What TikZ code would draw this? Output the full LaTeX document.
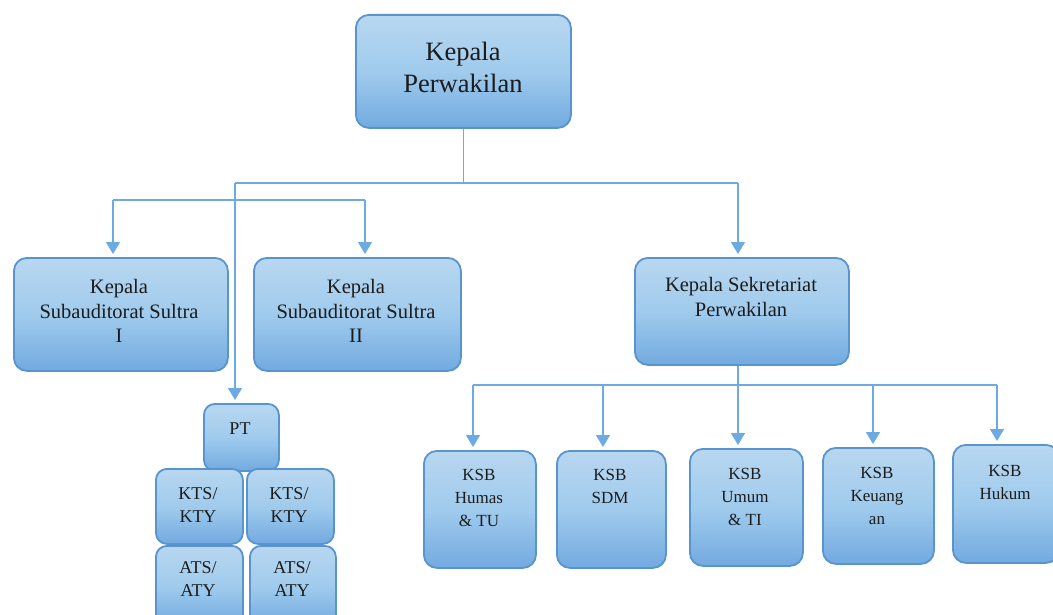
\documentclass[tikz,border=0pt]{standalone}
\usepackage{fontspec}
\setmainfont{Liberation Serif}
\usetikzlibrary{arrows.meta}
\definecolor{boxline}{RGB}{88,148,206}
\definecolor{boxtop}{RGB}{184,215,240}
\definecolor{boxmid}{RGB}{160,203,237}
\definecolor{boxbot}{RGB}{114,170,224}
\definecolor{conncol}{RGB}{108,170,226}
\definecolor{txtcol}{RGB}{28,28,28}
\tikzset{
  box/.style={draw=boxline, line width=1.8pt, rounded corners=13pt, inner sep=0pt,
    anchor=north west, top color=boxtop, bottom color=boxbot, middle color=boxmid},
  smallbox/.style={box, rounded corners=11pt},
  conn/.style={draw=conncol, line width=1.5pt},
  arr/.style={conn, -{Triangle[width=14pt,length=12pt]}, shorten >=3pt},
  bigtxt/.style={align=center, text=txtcol, font=\fontsize{26.5}{32}\selectfont},
  midtxt/.style={align=center, text=txtcol, font=\fontsize{20.5}{24.5}\selectfont},
  smltxt/.style={align=center, text=txtcol, font=\fontsize{17}{23}\selectfont},
  kttxt/.style={align=center, text=txtcol, font=\fontsize{18}{23}\selectfont},
}
\begin{document}
\begin{tikzpicture}[x=1pt,y=-1pt]
\clip (0,0) rectangle (1053,615);
\fill[white] (0,0) rectangle (1053,615);
% boxes
\node[box, minimum width=215pt, minimum height=113pt] (top) at (355,14) {};
\node[box, minimum width=214pt, minimum height=113pt] (sub1) at (13,257) {};
\node[box, minimum width=207pt, minimum height=113pt] (sub2) at (253,257) {};
\node[box, minimum width=214pt, minimum height=107pt] (sek) at (634,257) {};
\node[smallbox, minimum width=75pt, minimum height=67pt] (pt) at (203,403) {};
\node[smallbox, minimum width=87pt, minimum height=75pt] (kts1) at (155,468) {};
\node[smallbox, minimum width=87pt, minimum height=75pt] (kts2) at (246,468) {};
\node[smallbox, minimum width=87pt, minimum height=80pt] (ats1) at (155,545) {};
\node[smallbox, minimum width=86pt, minimum height=80pt] (ats2) at (249,545) {};
\node[box, minimum width=112pt, minimum height=117pt] (ksb1) at (423,450) {};
\node[box, minimum width=109pt, minimum height=117pt] (ksb2) at (556,450) {};
\node[box, minimum width=113pt, minimum height=117pt] (ksb3) at (689,448) {};
\node[box, minimum width=111pt, minimum height=116pt] (ksb4) at (822,447) {};
\node[box, minimum width=106pt, minimum height=118pt] (ksb5) at (952,444) {};
% texts
\node[bigtxt] (ttop) at (463,67) {Kepala\\Perwakilan};
\node[midtxt] (tsub1) at (119,311) {Kepala\\Subauditorat Sultra\\I};
\node[midtxt] (tsub2) at (356,311) {Kepala\\Subauditorat Sultra\\II};
\node[midtxt] (tsek) at (741,297) {Kepala Sekretariat\\Perwakilan};
\node[kttxt] (tpt) at (240,429) {PT};
\node[kttxt] (tkts1) at (198,505) {KTS/\\KTY};
\node[kttxt] (tkts2) at (289,505) {KTS/\\KTY};
\node[kttxt] (tats1) at (198,579) {ATS/\\ATY};
\node[kttxt] (tats2) at (292,579) {ATS/\\ATY};
\node[smltxt] (tksb1) at (479,498) {KSB\\Humas\\\&~TU};
\node[smltxt] (tksb2) at (610,486) {KSB\\SDM};
\node[smltxt] (tksb3) at (745,497) {KSB\\Umum\\\&~TI};
\node[smltxt] (tksb4) at (877,496) {KSB\\Keuang\\an};
\node[smltxt] (tksb5) at (1005,482) {KSB\\Hukum};
% connectors
\coordinate (jl) at (235,183);
\coordinate (jr) at (738,183);
\coordinate (j0) at (top.south |- jl);
\draw[conn] (top.south) -- (j0);
\draw[conn] (jl) -- (jr);
\draw[arr] (jr) -- (jr |- sek.north);
\draw[arr] (jl) -- (jl |- pt.north);
\coordinate (s1) at (113,200);
\coordinate (s2) at (365,200);
\draw[conn] (s1) -- (s2);
\draw[arr] (s1) -- (s1 |- sub1.north);
\draw[arr] (s2) -- (s2 |- sub2.north);
\coordinate (k0) at (738,385);
\coordinate (k1) at (473,385);
\coordinate (k2) at (603,385);
\coordinate (k3) at (738,385);
\coordinate (k4) at (873,385);
\coordinate (k5) at (997,385);
\draw[conn] (k0 |- sek.south) -- (k0);
\draw[conn] (k1) -- (k5);
\draw[arr] (k1) -- (k1 |- ksb1.north);
\draw[arr] (k2) -- (k2 |- ksb2.north);
\draw[arr] (k3) -- (k3 |- ksb3.north);
\draw[arr] (k4) -- (k4 |- ksb4.north);
\draw[arr] (k5) -- (k5 |- ksb5.north);
\end{tikzpicture}
\end{document}
